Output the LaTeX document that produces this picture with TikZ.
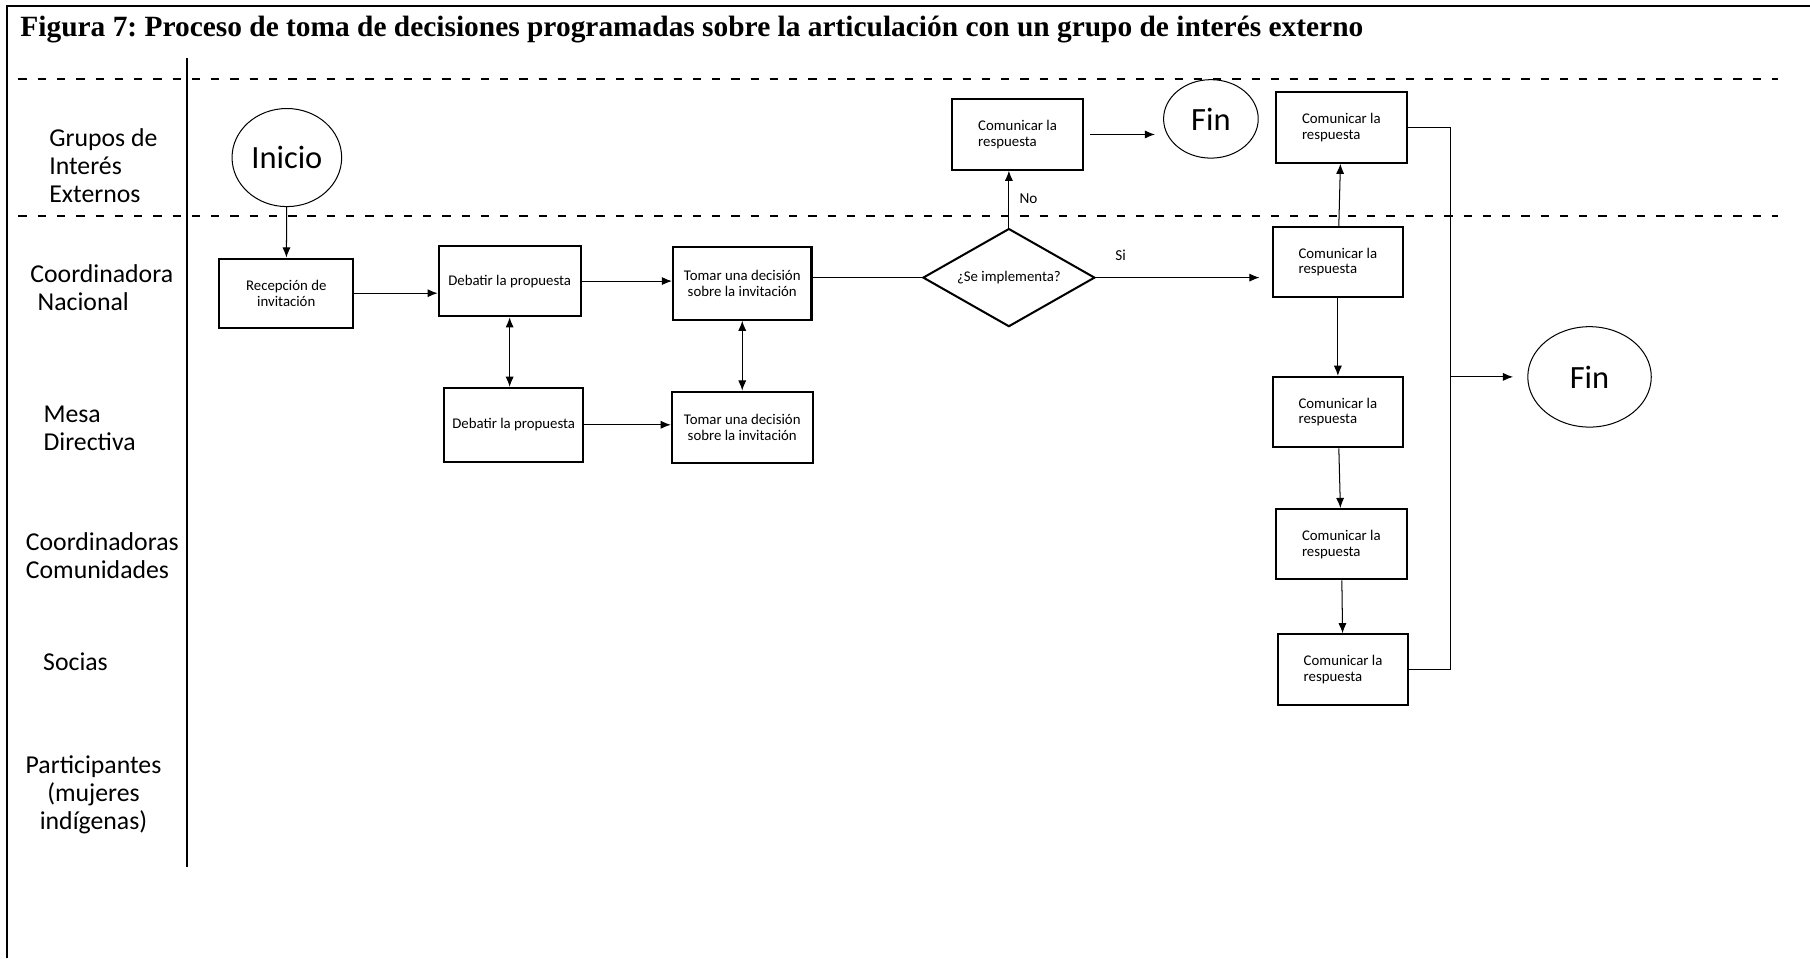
\documentclass[tikz,border=0pt]{standalone}
\usepackage{fontspec}
\setmainfont{Carlito}
\newfontfamily\titulofont{Liberation Serif}
\usetikzlibrary{shapes.geometric,arrows.meta}
\frenchspacing

\begin{document}
\begin{tikzpicture}[x=0.02cm,y=-0.02cm,>={Latex[length=5pt,width=4pt]},line width=0.5pt,
      caja/.style={draw,rectangle,line width=1pt,inner sep=1pt,
        font=\fontsize{7.3}{7.8}\selectfont},
      resp/.style={caja,align=left,minimum width=2.26cm,minimum height=1.22cm},
      circulo/.style={draw,ellipse,inner sep=0pt,font=\fontsize{16}{18}\selectfont},
      carril/.style={inner sep=0pt,anchor=base west,align=left,
        font=\fontsize{12.7}{13.8}\selectfont},
      etiq/.style={inner sep=0pt,font=\fontsize{7.5}{8}\selectfont},
      pfeil/.style={->},
      linea/.style={dash pattern=on 4.1pt off 5.4pt,line width=1.3pt}]
    \useasboundingbox (0,0) rectangle (1568,830);
    % marco, titulo y carriles
    \draw[line width=1pt] (6.4,830) -- (6.4,5.2) -- (1568,5.2);
    \node[anchor=base west,inner sep=0pt,
      font=\titulofont\bfseries\fontsize{14.5}{16}\selectfont] (T0) at (17.3,31.2)
      {Figura 7: Proceso de toma de decisiones programadas sobre la articulación con un grupo de interés externo};
    \draw[linea] (16,68.4) -- (1540.5,68.4);
    \draw[linea] (16,187) -- (1540.5,187);
    \draw[line width=1pt] (161.7,50.5) -- (161.7,751);
    % (base = ultima linea)
    \node[carril] (L1) at (42.3,175) {Grupos de\\Interés\\Externos};
    \node[carril] (L2) at (25.9,269) {Coordinadora\\\hspace*{3.6pt}Nacional};
    \node[carril] (L3) at (37.3,390.4) {Mesa\\Directiva};
    \node[carril] (L4) at (22,501) {Coordinadoras\\Comunidades};
    \node[carril] (L5) at (37,581) {Socias};
    \node[carril,anchor=base,align=center] (L6) at (81,719) {Participantes\\(mujeres\\indígenas)};
    % nodos
    \node[circulo,minimum width=1.9cm,minimum height=1.7cm] (I0) at (248.5,136.5) {Inicio};
    \node[caja,align=center,minimum width=2.32cm,minimum height=1.2cm] (R1) at (248,254) {Recepción de\\invitación};
    \node[caja,minimum width=2.46cm,minimum height=1.22cm] (D1) at (441.5,243.5) {Debatir la propuesta};
    \node[caja,align=center,minimum width=2.4cm,minimum height=1.26cm] (T1) at (643,245.5) {Tomar una decisión\\sobre la invitación};
    \node[caja,minimum width=2.4cm,minimum height=1.28cm] (D2) at (445,368) {Debatir la propuesta};
    \node[caja,align=center,minimum width=2.44cm,minimum height=1.23cm] (T2) at (643,370) {Tomar una decisión\\sobre la invitación};
    \node[draw,diamond,aspect=1.75,line width=1pt,inner sep=0pt,minimum width=2.98cm,minimum height=1.7cm,
      font=\fontsize{7.3}{7.8}\selectfont] (E1) at (874,240.5) {¿Se implementa?};
    \node[resp] (C0) at (881.5,116.5) {Comunicar la\\respuesta};
    \node[circulo,minimum width=1.64cm,minimum height=1.36cm] (F1) at (1049,103) {Fin};
    \node[resp] (C1) at (1162,110.5) {Comunicar la\\respuesta};
    \node[resp] (C2) at (1159,227) {Comunicar la\\respuesta};
    \node[resp] (C3) at (1159,357) {Comunicar la\\respuesta};
    \node[resp] (C4) at (1162,471.5) {Comunicar la\\respuesta};
    \node[resp] (C5) at (1163.5,580) {Comunicar la\\respuesta};
    \node[circulo,minimum width=2.14cm,minimum height=1.74cm] (F2) at (1377,326.5) {Fin};
    \coordinate (B0) at (1256.5,326.5);
    % conexiones
    \draw[pfeil] (I0) -- (R1);
    \draw[pfeil] (R1) -- (R1 -| D1.west);
    \draw[pfeil] (D1) -- (D1 -| T1.west);
    \draw[<->] (D1.south) -- (D1.south |- D2.north);
    \draw[<->] (T1.south) -- (T1.south |- T2.north);
    \draw[pfeil] (D2) -- (D2 -| T2.west);
    \draw (T1.east |- E1.west) -- (E1.west);
    \draw[pfeil] (E1.north) -- (E1.north |- C0.south) node[etiq,pos=0.5,right=5pt] {No};
    \draw[pfeil,shorten <=3pt,shorten >=4pt] (C0) -- (C0 -| F1.west);
    \draw[pfeil,shorten >=6pt] (E1) -- (E1 -| C2.west) node[etiq,pos=0.14,above=8pt] {Si};
    \draw[pfeil] (C2) -- (C1);
    \draw[pfeil] (C2) -- (C3);
    \draw[pfeil] (C3) -- (C4);
    \draw[pfeil] (C4) -- (C5);
    \draw (C1.east) -| (B0) |- (C5.east);
    \draw[pfeil,shorten >=7pt] (B0) -- (F2);
  \end{tikzpicture}
\end{document}
